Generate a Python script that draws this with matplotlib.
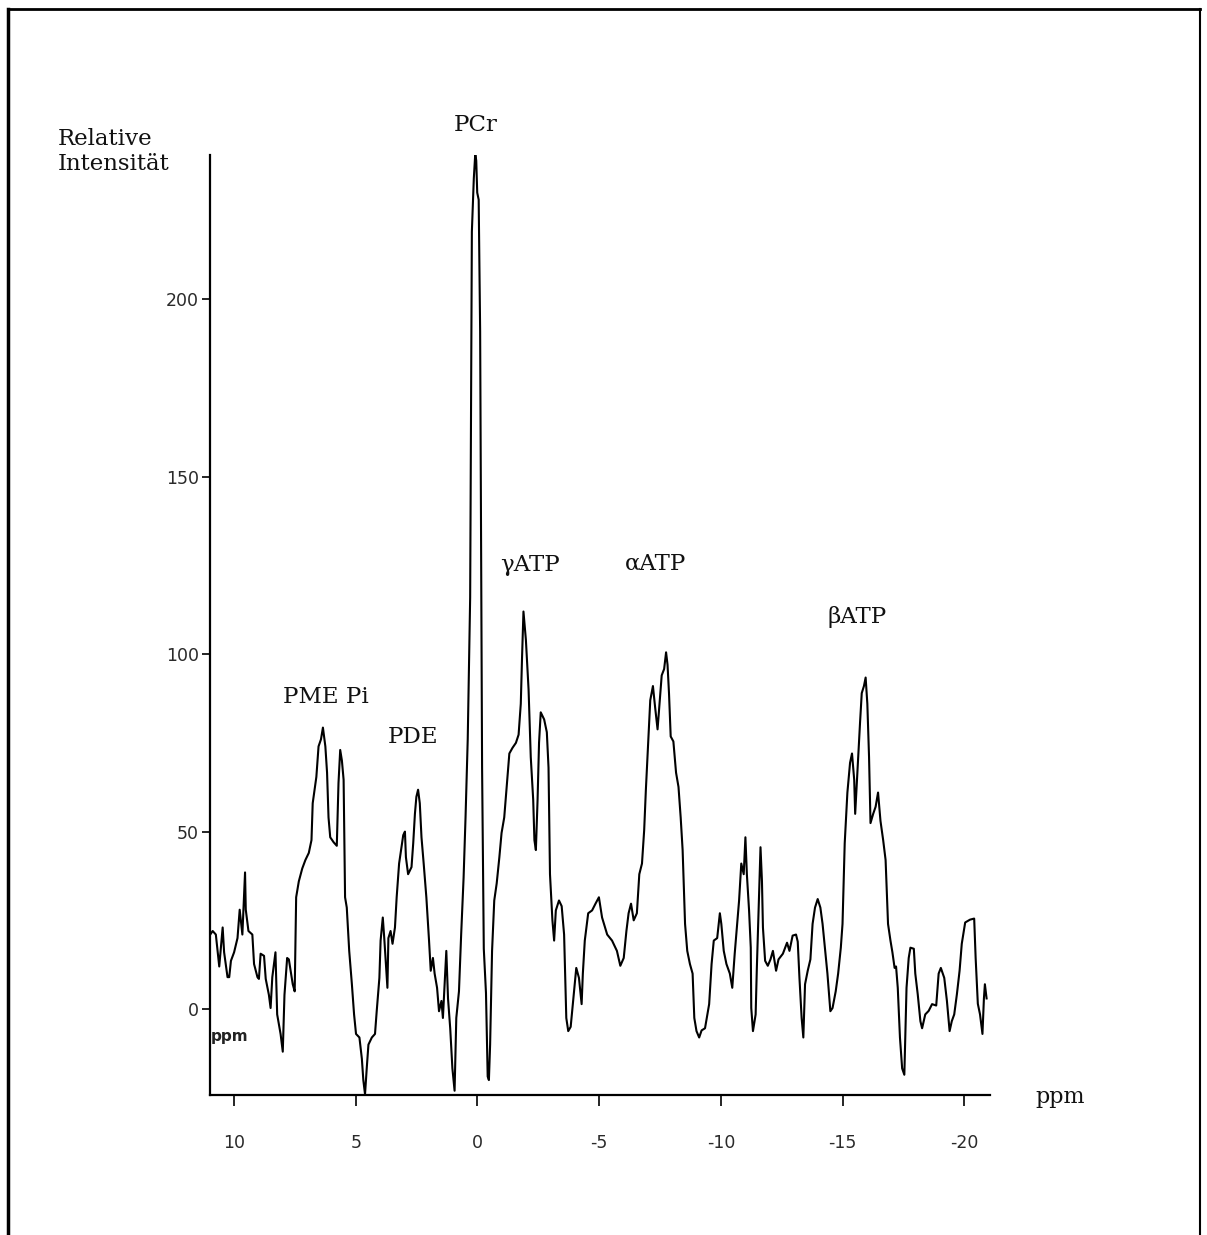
import matplotlib
matplotlib.use('Agg')
import matplotlib.pyplot as plt
from matplotlib.lines import Line2D

# 31P spectrum (chemical shift in ppm, relative intensity)
ppm = [10.98, 10.88, 10.75, 10.61, 10.47, 10.41, 10.27, 10.20, 10.13, 10.00,
       9.86, 9.77, 9.66, 9.55, 9.52, 9.41, 9.25, 9.18, 9.04, 8.98,
       8.91, 8.77, 8.70, 8.57, 8.50, 8.43, 8.30, 8.23, 8.09, 8.00,
       7.93, 7.82, 7.75, 7.64, 7.59, 7.51, 7.45, 7.34, 7.20, 7.07,
       6.93, 6.82, 6.77, 6.62, 6.53, 6.43, 6.35, 6.25, 6.18, 6.12,
       6.05, 5.91, 5.78, 5.71, 5.64, 5.57, 5.50, 5.44, 5.37, 5.27,
       5.16, 5.07, 4.99, 4.85, 4.75, 4.69, 4.62, 4.55, 4.48, 4.34,
       4.21, 4.14, 4.03, 3.98, 3.89, 3.83, 3.76, 3.70, 3.66, 3.57,
       3.49, 3.39, 3.32, 3.22, 3.12, 3.05, 2.98, 2.94, 2.85, 2.71,
       2.64, 2.57, 2.51, 2.44, 2.37, 2.30, 2.21, 2.10, 1.99, 1.92,
       1.83, 1.76, 1.66, 1.58, 1.48, 1.42, 1.35, 1.28, 1.21, 1.12,
       1.03, 0.94, 0.87, 0.76, 0.67, 0.57, 0.49, 0.40, 0.30, 0.23,
       0.15, 0.09, 0.05, 0.01, -0.05, -0.11, -0.19, -0.26, -0.35, -0.42,
       -0.47, -0.52, -0.60, -0.69, -0.79, -0.90, -0.99, -1.10, -1.20, -1.31,
       -1.44, -1.58, -1.69, -1.78, -1.83, -1.89, -1.99, -2.10, -2.19, -2.29,
       -2.34, -2.40, -2.47, -2.53, -2.60, -2.74, -2.85, -2.92, -2.98, -3.08,
       -3.15, -3.22, -3.35, -3.46, -3.56, -3.65, -3.73, -3.83, -3.96, -4.06,
       -4.17, -4.28, -4.33, -4.41, -4.55, -4.71, -4.85, -4.99, -5.12, -5.33,
       -5.53, -5.73, -5.87, -6.01, -6.12, -6.21, -6.31, -6.42, -6.55, -6.65,
       -6.76, -6.85, -6.92, -7.00, -7.10, -7.21, -7.30, -7.40, -7.48, -7.57,
       -7.67, -7.75, -7.81, -7.87, -7.94, -8.05, -8.16, -8.26, -8.35, -8.43,
       -8.53, -8.62, -8.73, -8.84, -8.91, -9.00, -9.11, -9.21, -9.35, -9.52,
       -9.62, -9.71, -9.85, -9.96, -10.02, -10.12, -10.23, -10.37, -10.47, -10.57,
       -10.67, -10.75, -10.84, -10.94, -11.01, -11.07, -11.16, -11.23, -11.25, -11.32,
       -11.43, -11.48, -11.57, -11.63, -11.69, -11.73, -11.82, -11.93, -12.04, -12.14,
       -12.27, -12.37, -12.55, -12.72, -12.82, -12.95, -13.09, -13.16, -13.23, -13.32,
       -13.39, -13.46, -13.57, -13.68, -13.77, -13.87, -13.98, -14.09, -14.18, -14.29,
       -14.38, -14.50, -14.59, -14.72, -14.82, -14.93, -15.00, -15.09, -15.20, -15.31,
       -15.39, -15.48, -15.52, -15.61, -15.72, -15.79, -15.88, -15.95, -16.02, -16.09,
       -16.15, -16.26, -16.36, -16.46, -16.56, -16.67, -16.77, -16.87, -16.97, -17.05,
       -17.14, -17.20, -17.27, -17.36, -17.45, -17.54, -17.63, -17.72, -17.79, -17.93,
       -17.99, -18.09, -18.20, -18.27, -18.40, -18.54, -18.68, -18.85, -18.95, -19.04,
       -19.18, -19.29, -19.40, -19.49, -19.59, -19.70, -19.81, -19.90, -20.04, -20.24,
       -20.41, -20.47, -20.56, -20.65, -20.75, -20.81, -20.85, -20.92]

intensity = [21, 22, 21, 12, 23, 16, 9, 9, 13.6, 16,
             20, 28, 21, 38.5, 28, 22, 21, 12.7, 9, 8.5,
             15.6, 15, 8.5, 4, 0.3, 9, 16, -1.5, -7, -12,
             4, 14.4, 14, 9.3, 7, 5, 31.5, 36, 39.6, 42,
             44, 47.6, 58, 65.4, 74, 76, 79.3, 74, 66.6, 54,
             48.4, 47, 46, 63.7, 73, 70, 64.6, 31.5, 28.6, 16.4,
             7, -1.5, -7, -8, -14, -20, -24, -16.7, -10, -8,
             -7, -0.6, 8.8, 19.3, 25.8, 20, 12.7, 6, 20, 22,
             18.4, 23, 31.5, 41, 45.6, 49, 50, 42.8, 38, 40,
             46.7, 55, 59.8, 61.8, 58, 48.4, 41, 31.5, 19.3, 10.8,
             14.4, 10, 6, -0.6, 2.3, -2.5, 7, 16.4, 3, -5.4,
             -16.7, -23, -2.5, 5, 21, 37, 54, 76, 116, 219,
             234, 241, 239, 230, 228, 191, 68, 17, 4.5, -19,
             -20, -10, 16.4, 30.6, 35.4, 42.8, 49.6, 54, 62.6, 72,
             73.6, 75, 77.3, 86, 98.6, 112, 104, 90, 71, 59,
             47.6, 44.8, 59, 75, 83.6, 81.6, 78, 68, 38, 25,
             19.3, 27.8, 30.6, 29, 21, -2.5, -6.2, -5, 4.2, 11.6,
             8.8, 1.4, 10, 19.3, 27, 27.8, 29.7, 31.5, 25.8, 21,
             19.3, 16.4, 12.2, 14.4, 22, 27, 29.7, 25, 27, 38,
             41, 50.4, 61.8, 73, 87, 91, 85, 78.8, 86, 94,
             95.8, 100.5, 97, 89, 76.8, 75.4, 66.6, 62.6, 54, 44.8,
             24, 16.4, 12.7, 10, -2.5, -6.2, -8, -6, -5.4, 1.4,
             12.7, 19.3, 20, 27, 24, 16.4, 12.7, 10, 6, 15.6,
             24, 30.6, 41, 38, 48.4, 38, 27.8, 17.3, 0.3, -6.2,
             -1.5, 11.6, 31.5, 45.6, 36, 23, 13.6, 12.2, 14, 16.4,
             10.8, 14, 15.6, 18.7, 16.4, 20.7, 21, 19, 8.8, -2.5,
             -8, 7, 10.8, 14, 24, 28.6, 31, 28.6, 24, 16.4,
             10, -0.6, 0.3, 5, 10, 17.3, 24, 46.7, 61, 69.4,
             72, 64.6, 55, 66.6, 80.7, 89, 91, 93.4, 86, 71,
             52.4, 55, 57, 61, 53, 47.6, 42, 24, 19.3, 16,
             11.6, 12, 6, -8, -16.7, -18.5, 6, 14.4, 17.3, 17,
             10, 4.2, -3.4, -5.4, -1.5, -0.5, 1.4, 1, 10, 11.6,
             8.8, 2.3, -6.2, -3.4, -1.5, 4.2, 10.8, 18.4, 24.4, 25.2,
             25.5, 14.4, 1.5, -1.5, -7, 3, 7, 3]

x_ticks = [10, 5, 0, -5, -10, -15, -20]
y_ticks = [0, 50, 100, 150, 200]

peak_names = ['PCr', '\u03b3ATP', '\u03b1ATP', '\u03b2ATP', 'PME Pi', 'PDE']
peak_ppm = [0.06, -2.14, -7.3, -15.6, 6.23, 2.65]
peak_y = [249, 125, 125.6, 110.4, 87.9, 76.6]

plt.rcParams['axes.unicode_minus'] = False

fig = plt.figure(figsize=(12.07, 12.35), dpi=100)
ax = fig.add_axes([210/1207, 1 - 1095/1235, 780/1207, 940/1235])

ax.plot(ppm, intensity, color='black', linewidth=1.5)

ax.set_xlim(10.99, -21.06)
ax.set_ylim(-24.2, 240.6)

ax.spines['top'].set_visible(False)
ax.spines['right'].set_visible(False)
ax.spines['left'].set_linewidth(1.6)
ax.spines['bottom'].set_linewidth(1.6)

ax.set_xticks(x_ticks)
ax.set_xticklabels([str(v) for v in x_ticks])
ax.set_yticks(y_ticks)
ax.set_yticklabels([str(v) for v in y_ticks])
ax.tick_params(axis='x', direction='out', length=8, width=1.2, pad=20,
               labelsize=12.5, labelcolor='#2a2a2a')
ax.tick_params(axis='y', direction='out', length=6, width=1.2, pad=2,
               labelsize=12.5, labelcolor='#2a2a2a')

for name, px, py in zip(peak_names, peak_ppm, peak_y):
    ax.text(px, py, name, ha='center', va='center', fontsize=16.5,
            family='DejaVu Serif', color='#111111', clip_on=False)

fig.text(58/1207, 1 - 128/1235, 'Relative\nIntensit\u00e4t', ha='left', va='top',
         fontsize=16.5, family='DejaVu Serif', color='#111111', linespacing=1.2)
fig.text(1035/1207, 1 - 1097/1235, 'ppm', ha='left', va='center',
         fontsize=16, family='DejaVu Serif', color='#111111')
fig.text(211/1207, 1 - 1037/1235, 'ppm', ha='left', va='center',
         fontsize=11, family='DejaVu Sans', weight='bold', color='#222222')

# frame round the picture
fig.add_artist(Line2D([8/1207, 8/1207], [0, 1 - 9/1235], color='black', linewidth=2.5))
fig.add_artist(Line2D([8/1207, 1200/1207], [1 - 9/1235, 1 - 9/1235], color='black', linewidth=2.0))
fig.add_artist(Line2D([1200/1207, 1200/1207], [0, 1 - 9/1235], color='black', linewidth=1.5))

fig.savefig('out.png', dpi=100)
